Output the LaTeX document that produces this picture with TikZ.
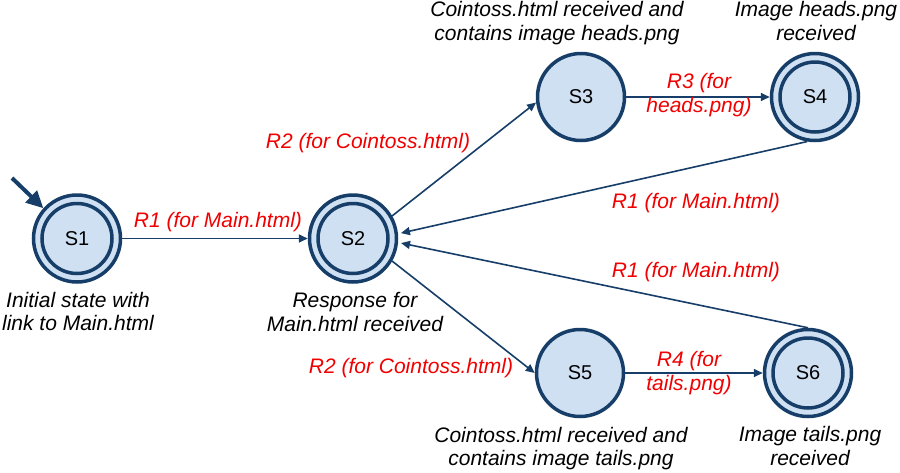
\documentclass[tikz,border=0pt]{standalone}
\usepackage{fontspec}
\setmainfont{Liberation Sans}
\usetikzlibrary{arrows.meta}
\definecolor{navy}{RGB}{22,62,104}
\definecolor{lblue}{RGB}{207,224,242}
\definecolor{lred}{RGB}{240,0,0}
\tikzset{
  statebox/.style={circle, draw=navy, fill=lblue, line width=3.5pt, minimum size=87pt, inner sep=0pt,
    font=\fontsize{20}{23}\selectfont},
  acceptbox/.style={statebox, path picture={\draw[navy, line width=3.5pt] (path picture bounding box.center) circle (35pt);}},
  conn/.style={draw=navy, line width=1.6pt, -{Triangle[length=9pt,width=8pt]}},
  initarrow/.style={draw=navy, line width=4pt, -{Triangle[length=17pt,width=16pt]}},
  lbltxt/.style={text=lred, font=\fontsize{21}{23.5}\selectfont\itshape, inner sep=0pt, align=center},
  captxt/.style={text=black, font=\fontsize{21}{23.5}\selectfont\itshape, inner sep=0pt, align=center}
}
\begin{document}
\begin{tikzpicture}[x=1pt, y=-1pt]
\useasboundingbox (0,0) rectangle (900,472);
% states
\node[acceptbox] (S1) at (77,238.5) {S1};
\node[acceptbox] (S2) at (353,238.5) {S2};
\node[statebox]  (S3) at (581,97) {S3};
\node[acceptbox] (S4) at (815,97) {S4};
\node[statebox]  (S5) at (580,373) {S5};
\node[acceptbox] (S6) at (808,373) {S6};
% initial arrow
\coordinate (init) at (12,178);
\draw[initarrow] (init) -- (S1.138);
% connectors
\draw[conn] (S1.east) -- (S2.west);
\draw[conn] (S2.30) -- (S3.187);
\draw[conn] (S2.-30) -- (S5.west);
\draw[conn] (S3.east) -- (S4.west);
\draw[conn] (S5.east) -- (S6.west);
\draw[conn, shorten >=3pt] (S4.260) -- (S2.6);
\draw[conn, shorten >=3pt] (S6.north) -- (S2.-5);
% edge labels
\node[lbltxt, anchor=base] (l1) at (218,227) {R1 (for Main.html)};
\node[lbltxt, anchor=base] (l2) at (368,148) {R2 (for Cointoss.html)};
\node[lbltxt] (l3) at (699,95) {R3 (for\\heads.png)};
\node[lbltxt, anchor=base] (l4) at (696,208) {R1 (for Main.html)};
\node[lbltxt, anchor=base] (l5) at (696,277) {R1 (for Main.html)};
\node[lbltxt, anchor=base] (l6) at (411,373) {R2 (for Cointoss.html)};
\node[lbltxt] (l7) at (689,373) {R4 (for\\tails.png)};
% captions
\node[captxt] (c1) at (78,311.5) {Initial state with\\link to Main.html};
\node[captxt] (c2) at (355,312) {Response for\\Main.html received};
\node[captxt] (c3) at (557,23) {Cointoss.html received and\\contains image heads.png};
\node[captxt] (c4) at (816,21) {Image heads.png\\received};
\node[captxt] (c5) at (561,448.5) {Cointoss.html received and\\contains image tails.png};
\node[captxt] (c6) at (810,446) {Image tails.png\\received};
\end{tikzpicture}
\end{document}
